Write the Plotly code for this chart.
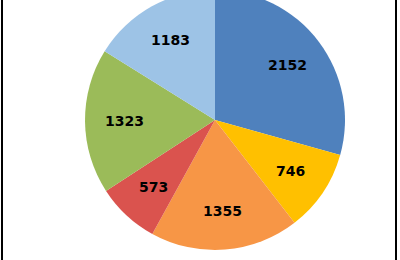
import numpy as np
import plotly.graph_objects as go

labels = ["A", "B", "C", "D", "E", "F"]
values = [2152, 746, 1355, 573, 1323, 1183]
colors = ["#4F81BD", "#FFC000", "#F79646", "#DA534E", "#9BBB59", "#9DC3E6"]

W, H, SHIFT = 400, 270, 10
PLOT_H = H - SHIFT
CX_PX, R_PX = 215, 130
LABEL_FRAC = 0.70

fig = go.Figure(go.Pie(
    labels=labels,
    values=values,
    sort=False,
    direction="clockwise",
    rotation=0,
    marker=dict(colors=colors, line=dict(width=0)),
    textinfo="none",
    showlegend=False,
    hoverinfo="skip",
    domain=dict(x=[(CX_PX - R_PX) / W, (CX_PX + R_PX) / W], y=[0, 1]),
))

# value labels placed along each slice's mid-angle
vals = np.array(values, dtype=float)
cum = np.cumsum(vals)
mid = (cum - vals / 2) / vals.sum() * 2 * np.pi
annotations = []
for v, a in zip(values, mid):
    x = CX_PX / W + LABEL_FRAC * R_PX / W * np.sin(a)
    y = 0.5 + LABEL_FRAC * R_PX / PLOT_H * np.cos(a)
    annotations.append(dict(x=x, y=y, xref="paper", yref="paper", text=f"<b>{v}</b>",
                            showarrow=False, xanchor="center", yanchor="middle",
                            font=dict(family="DejaVu Sans", size=14, color="black")))

fig.update_layout(
    width=W, height=H,
    margin=dict(l=0, r=0, t=0, b=SHIFT),
    paper_bgcolor="white",
    annotations=annotations,
    shapes=[dict(type="rect", xref="paper", yref="paper",
                 x0=2 / W, x1=396 / W, y0=-0.2, y1=1.2,
                 line=dict(color="black", width=2))],
)

post = "var d=document.getElementById('{plot_id}'); d.style.marginTop='-%dpx';" % SHIFT

fig.write_html("out.html", post_script=post)
